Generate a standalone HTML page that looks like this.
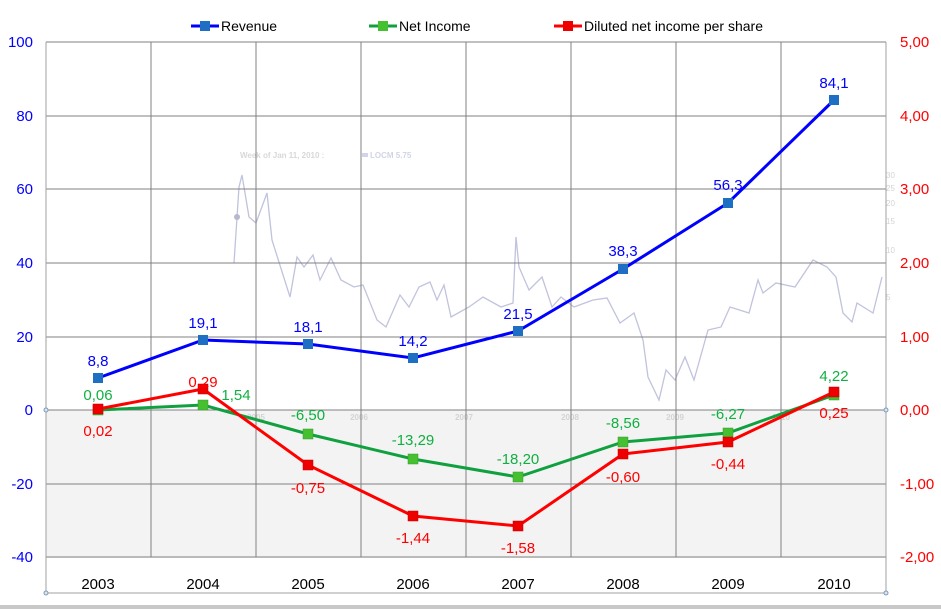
<!DOCTYPE html>
<html><head><meta charset="utf-8"><style>
html,body{margin:0;padding:0;background:#fff;}
svg{display:block;font-family:"Liberation Sans","DejaVu Sans",sans-serif;}
</style></head><body>
<svg width="941" height="609" viewBox="0 0 941 609" xmlns="http://www.w3.org/2000/svg">
<rect width="941" height="609" fill="#fff"/>
<rect x="46" y="410" width="840" height="148" fill="#f3f3f3"/>
<!-- faint stock chart -->
<g opacity="0.9">
<text x="240" y="158" font-size="8" fill="#d4d4d4" font-weight="bold">Week of Jan 11, 2010 :</text>
<rect x="362" y="153" width="6" height="4" fill="#ccd0e4"/>
<text x="370" y="158" font-size="8" fill="#ccd0e4" font-weight="bold">LOCM 5.75</text>
<polyline fill="none" stroke="#b9bdd9" stroke-width="1.3" points="234,263 239,187 242,175 249,217 256,223 267,193 272,240 290,297 297,257 304,267 313,255 320,280 331,258 341,280 354,287 363,285 377,320 386,327 400,295 409,307 419,287 430,282 437,300 444,285 451,317 469,307 483,297 501,307 513,303 516,237 519,267 529,290 542,277 552,307 561,297 574,307 593,300 607,298 620,323 634,313 643,340 648,377 659,400 666,370 675,380 685,357 694,380 708,330 721,327 730,307 749,313 758,280 763,293 776,283 795,287 813,260 827,267 836,277 843,313 852,322 857,303 873,313 882,277"/>
<circle cx="237" cy="217" r="3" fill="#b0b0c8"/>
<g font-size="8" fill="#d0d0d0"><text x="886" y="178">30</text><text x="886" y="191">25</text><text x="886" y="206">20</text><text x="886" y="224">15</text><text x="886" y="253">10</text><text x="886" y="300">5</text></g>
<g font-size="8" fill="#d0d0d0" font-weight="bold" text-anchor="middle"><text x="256" y="420">2005</text><text x="359" y="420">2006</text><text x="464" y="420">2007</text><text x="570" y="420">2008</text><text x="675" y="420">2009</text><text x="781" y="420">2010</text></g>
</g>
<!-- grid -->
<g stroke="#808080" stroke-width="1">
<line x1="46" y1="42" x2="886" y2="42"/><line x1="46" y1="116" x2="886" y2="116"/><line x1="46" y1="189" x2="886" y2="189"/><line x1="46" y1="263" x2="886" y2="263"/><line x1="46" y1="337" x2="886" y2="337"/><line x1="46" y1="410" x2="886" y2="410"/><line x1="46" y1="484" x2="886" y2="484"/><line x1="46" y1="557" x2="886" y2="557"/>
<line x1="151" y1="42" x2="151" y2="557"/><line x1="256" y1="42" x2="256" y2="557"/><line x1="361" y1="42" x2="361" y2="557"/><line x1="466" y1="42" x2="466" y2="557"/><line x1="571" y1="42" x2="571" y2="557"/><line x1="676" y1="42" x2="676" y2="557"/><line x1="781" y1="42" x2="781" y2="557"/>
</g>
<g stroke="#a0a0a0" stroke-width="1">
<line x1="46" y1="42" x2="46" y2="593"/><line x1="886" y1="42" x2="886" y2="593"/><line x1="46" y1="593" x2="886" y2="593"/>
</g>
<g fill="#dde6f0" stroke="#7a9ab8"><circle cx="46" cy="410" r="2"/><circle cx="886" cy="410" r="2"/><circle cx="46" cy="593" r="2"/><circle cx="886" cy="593" r="2"/></g>
<rect x="0" y="605" width="941" height="4" fill="#c8c8c8"/>
<!-- axis labels -->
<g font-size="15" fill="#0000ff" text-anchor="end">
<text x="33" y="47">100</text><text x="33" y="121">80</text><text x="33" y="194">60</text><text x="33" y="268">40</text><text x="33" y="342">20</text><text x="33" y="415">0</text><text x="33" y="489">-20</text><text x="33" y="562">-40</text>
</g>
<g font-size="15" fill="#ff0000">
<text x="900" y="47">5,00</text><text x="900" y="121">4,00</text><text x="900" y="194">3,00</text><text x="900" y="268">2,00</text><text x="900" y="342">1,00</text><text x="900" y="415">0,00</text><text x="900" y="489">-1,00</text><text x="900" y="562">-2,00</text>
</g>
<g font-size="15" fill="#000" text-anchor="middle">
<text x="98" y="589">2003</text><text x="203" y="589">2004</text><text x="308" y="589">2005</text><text x="413" y="589">2006</text><text x="518" y="589">2007</text><text x="623" y="589">2008</text><text x="728" y="589">2009</text><text x="834" y="589">2010</text>
</g>
<!-- series -->
<polyline fill="none" stroke="#0000ff" stroke-width="3" points="98,378 203,340 308,344 413,358 518,331 623,269 728,203 834,100"/>
<polyline fill="none" stroke="#10a040" stroke-width="3" points="98,410 203,405 308,434 413,459 518,477 623,442 728,433 834,395"/>
<polyline fill="none" stroke="#ff0000" stroke-width="3" points="98,409 203,389 308,465 413,516 518,526 623,454 728,442 834,392"/>
<g fill="#1e6fc4"><rect x="93" y="373" width="10" height="10"/><rect x="198" y="335" width="10" height="10"/><rect x="303" y="339" width="10" height="10"/><rect x="408" y="353" width="10" height="10"/><rect x="513" y="326" width="10" height="10"/><rect x="618" y="264" width="10" height="10"/><rect x="723" y="198" width="10" height="10"/><rect x="829" y="95" width="10" height="10"/></g>
<g fill="#44c030" stroke="#3a9a30" stroke-width="0.5"><rect x="93" y="405" width="10" height="10"/><rect x="198" y="400" width="10" height="10"/><rect x="303" y="429" width="10" height="10"/><rect x="408" y="454" width="10" height="10"/><rect x="513" y="472" width="10" height="10"/><rect x="618" y="437" width="10" height="10"/><rect x="723" y="428" width="10" height="10"/><rect x="829" y="390" width="10" height="10"/></g>
<g fill="#ee0000" stroke="#c00000" stroke-width="0.5"><rect x="93" y="404" width="10" height="10"/><rect x="198" y="384" width="10" height="10"/><rect x="303" y="460" width="10" height="10"/><rect x="408" y="511" width="10" height="10"/><rect x="513" y="521" width="10" height="10"/><rect x="618" y="449" width="10" height="10"/><rect x="723" y="437" width="10" height="10"/><rect x="829" y="387" width="10" height="10"/></g>
<!-- data labels -->
<g font-size="15" fill="#0000ff" text-anchor="middle">
<text x="98" y="366">8,8</text><text x="203" y="328">19,1</text><text x="308" y="332">18,1</text><text x="413" y="346">14,2</text><text x="518" y="319">21,5</text><text x="623" y="256">38,3</text><text x="728" y="190">56,3</text><text x="834" y="88">84,1</text>
</g>
<g font-size="15" fill="#10b040" text-anchor="middle">
<text x="98" y="400">0,06</text><text x="236" y="400">1,54</text><text x="308" y="420">-6,50</text><text x="413" y="445">-13,29</text><text x="518" y="464">-18,20</text><text x="623" y="428">-8,56</text><text x="728" y="419">-6,27</text><text x="834" y="381">4,22</text>
</g>
<g font-size="15" fill="#ff0000" text-anchor="middle">
<text x="98" y="436">0,02</text><text x="203" y="387">0,29</text><text x="308" y="493">-0,75</text><text x="413" y="543">-1,44</text><text x="518" y="553">-1,58</text><text x="623" y="482">-0,60</text><text x="728" y="469">-0,44</text><text x="834" y="418">0,25</text>
</g>
<!-- legend -->
<g font-size="14" fill="#000">
<line x1="191" y1="26" x2="219" y2="26" stroke="#0000ff" stroke-width="3"/><rect x="200" y="21" width="10" height="10" fill="#1e6fc4"/><text x="221" y="31">Revenue</text>
<line x1="369" y1="26" x2="397" y2="26" stroke="#10a040" stroke-width="3"/><rect x="378" y="21" width="10" height="10" fill="#44c030"/><text x="399" y="31">Net Income</text>
<line x1="554" y1="26" x2="582" y2="26" stroke="#ff0000" stroke-width="3"/><rect x="563" y="21" width="10" height="10" fill="#ee0000"/><text x="584" y="31">Diluted net income per share</text>
</g>
</svg>
</body></html>
